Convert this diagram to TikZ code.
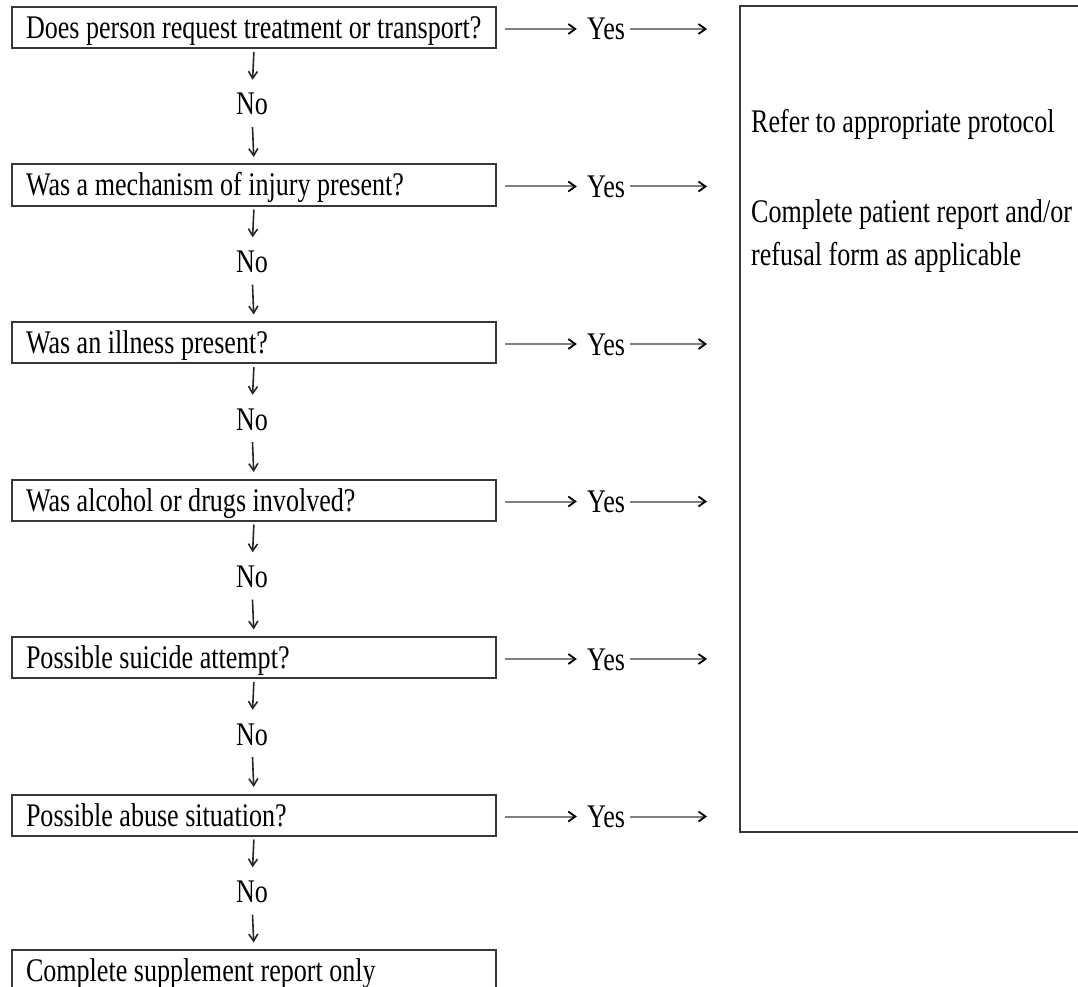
\documentclass[tikz,border=0pt]{standalone}
\usepackage{fontspec}
\setmainfont[FakeStretch=0.79]{Liberation Serif}
\usetikzlibrary{arrows.meta}
\definecolor{boxgray}{gray}{0.22}
\definecolor{arrgray}{gray}{0.5}
\newcommand{\qtext}[1]{\makebox[484pt][l]{\hspace*{14pt}#1}}
\begin{document}
\begin{tikzpicture}[x=1pt,y=-1pt,
  font=\fontsize{33}{43}\selectfont,
  qbox/.style={draw=boxgray, line width=2pt, rectangle, anchor=north west,
    minimum height=41pt, inner xsep=0pt, inner ysep=0pt,
    text height=22pt, text depth=0pt},
  lbl/.style={inner sep=0pt, text height=22pt, text depth=0pt},
  downarr/.style={-{Straight Barb[length=7pt,width=9pt]}, line width=1.6pt, draw=black!85},
  acrossarr/.style={draw=arrgray, line width=2pt,
    -{Straight Barb[length=7pt,width=10pt,line width=1.8pt,color=black]}},
]
\useasboundingbox (0,0) rectangle (1078,987);

% right-hand result box (its right side runs off the picture)
\node (r) [anchor=north west, minimum width=338pt, minimum height=826pt, inner sep=0pt] at (740,6) {};
\draw[boxgray, line width=2pt] (r.north east) -- (r.north west) -- (r.south west) -- (r.south east);
\node (rt) [anchor=north west, align=left, inner sep=0pt] at (751,109)
  {Refer to appropriate protocol\\[47pt]Complete patient report and/or\\refusal form as applicable};

% question boxes
\node (q0) [qbox] at (11,6) {\qtext{Does person request treatment or transport?}};
\node (q1) [qbox] at (11,163.5) {\qtext{Was a mechanism of injury present?}};
\node (q2) [qbox] at (11,321) {\qtext{Was an illness present?}};
\node (q3) [qbox] at (11,478.5) {\qtext{Was alcohol or drugs involved?}};
\node (q4) [qbox] at (11,636) {\qtext{Possible suicide attempt?}};
\node (q5) [qbox] at (11,793.5) {\qtext{Possible abuse situation?}};
\node (q6) [qbox] at (11,949) {\qtext{Complete supplement report only}};

\foreach \k in {0,...,5}{
  \pgfmathsetmacro{\yo}{104+157.5*\k}
  \pgfmathsetmacro{\yy}{29+157.5*\k}
  \node (no\k) [lbl] at (252,\yo) {No};
  \node (yes\k) [lbl] at (606,\yy) {Yes};
}

\foreach \k [evaluate=\k as \n using int(\k+1)] in {0,...,5}{
  \draw[downarr, shorten <=3pt, shorten >=13pt] (q\k.south) -- (no\k.north);
  \draw[downarr, shorten <=12pt, shorten >=6.5pt] (no\k.south) -- (q\n.north);
  \draw[acrossarr, shorten <=8pt, shorten >=10pt] (q\k.east |- yes\k.west) -- (yes\k.west);
  \draw[acrossarr, shorten <=5pt, shorten >=33pt] (yes\k.east) -- (yes\k.east -| r.west);
}
\end{tikzpicture}
\end{document}
